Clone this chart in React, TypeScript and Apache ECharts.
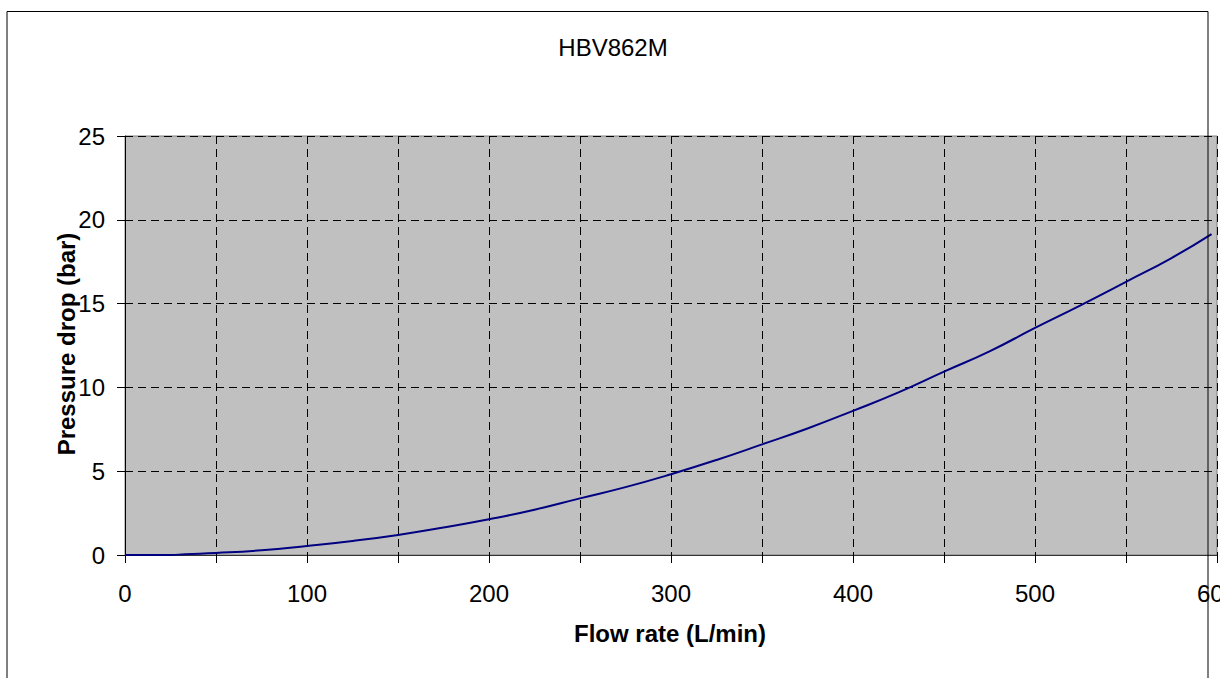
import React, { useEffect, useRef } from "react";
import * as echarts from "echarts";

const titleText = "HBV862M";
const xAxisTitle = "Flow rate (L/min)";
const yAxisTitle = "Pressure drop (bar)";

const flowRate = [0, 25, 33, 50, 75, 100, 125, 150, 175, 200, 225, 250, 275, 300, 325, 350, 375, 400, 425, 450, 475, 500, 525, 550, 575, 597];
const pressureDrop = [0, 0, 0.05, 0.12, 0.28, 0.54, 0.84, 1.2, 1.64, 2.13, 2.7, 3.38, 4.05, 4.82, 5.67, 6.6, 7.55, 8.6, 9.7, 10.94, 12.15, 13.55, 14.9, 16.3, 17.72, 19.15];

const xTickMin = 0;
const xTickMax = 600;
const xTickStep = 50;
const xLabelStep = 100;
const yTickMin = 0;
const yTickMax = 25;
const yTickStep = 5;

export default function App() {
  const ref = useRef<HTMLDivElement>(null);
  useEffect(() => {
    if (!ref.current) return;
    const chart = echarts.init(ref.current, undefined, { renderer: "svg" });
    const font = "Arial, 'Liberation Sans', sans-serif";
    chart.setOption({
      animation: false,
      backgroundColor: "#ffffff",
      grid: {
        left: 125,
        top: 136,
        width: 1092,
        height: 419,
        containLabel: false,
        outerBoundsMode: "none",
        show: true,
        backgroundColor: "#C0C0C0",
        borderColor: "#808080",
        borderWidth: 1,
      },
      xAxis: {
        type: "value",
        min: xTickMin,
        max: xTickMax,
        interval: xTickStep,
        axisLine: { show: true, lineStyle: { color: "#333333", width: 1 } },
        axisTick: { show: true, length: 8, lineStyle: { color: "#000000" } },
        axisLabel: {
          show: true,
          showMaxLabel: true,
          showMinLabel: true,
          margin: 26,
          color: "#000000",
          fontSize: 24,
          fontFamily: font,
          formatter: (v: number) => (v % xLabelStep === 0 ? String(v) : ""),
          hideOverlap: false,
        },
        splitLine: { show: true, lineStyle: { color: "#000000", type: [8, 5], width: 1 } },
      },
      yAxis: {
        type: "value",
        min: yTickMin,
        max: yTickMax,
        interval: yTickStep,
        axisLine: { show: true, lineStyle: { color: "#000000", width: 1 } },
        axisTick: { show: true, length: 8, lineStyle: { color: "#000000" } },
        axisLabel: { margin: 20, color: "#000000", fontSize: 24, fontFamily: font },
        splitLine: { show: true, lineStyle: { color: "#000000", type: [8, 5], width: 1 } },
      },
      series: [
        {
          type: "line",
          data: flowRate.map((q, i) => [q, pressureDrop[i]]),
          showSymbol: false,
          smooth: true,
          lineStyle: { color: "#000080", width: 2 },
          itemStyle: { color: "#000080" },
        },
      ],
      graphic: [
        {
          type: "rect",
          shape: { x: 7, y: 11.5, width: 1201, height: 700 },
          style: { fill: "none", stroke: "#000000", lineWidth: 1 },
          silent: true,
          z: 100,
        },
        {
          type: "text",
          x: 613,
          y: 47,
          style: {
            text: titleText,
            fill: "#000000",
            font: `24px ${font}`,
            align: "center",
            verticalAlign: "middle",
          },
        },
        {
          type: "text",
          x: 670,
          y: 633,
          style: {
            text: xAxisTitle,
            fill: "#000000",
            font: `bold 24px ${font}`,
            align: "center",
            verticalAlign: "middle",
          },
        },
        {
          type: "text",
          x: 66,
          y: 344,
          rotation: Math.PI / 2,
          style: {
            text: yAxisTitle,
            fill: "#000000",
            font: `bold 24px ${font}`,
            align: "center",
            verticalAlign: "middle",
          },
        },
      ],
    });
    return () => chart.dispose();
  }, []);
  return (
    <div
      ref={ref}
      style={{ position: "absolute", left: 0, top: 0, width: 1220, height: 678, overflow: "hidden" }}
    />
  );
}
